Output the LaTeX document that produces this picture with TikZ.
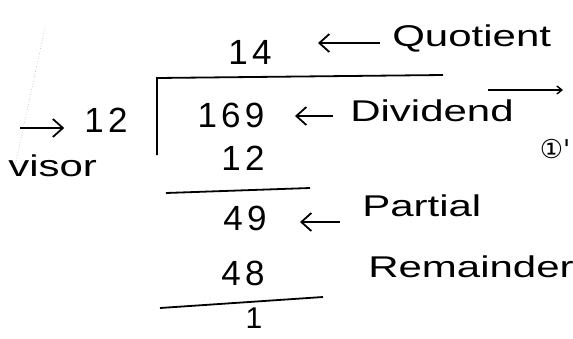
\documentclass[tikz,border=0pt]{standalone}
\usepackage{fontspec}
\setmainfont{Liberation Sans}
\newfontfamily\digits[LetterSpace=12]{Liberation Sans}
\newfontfamily\symb{DejaVu Sans}
\usetikzlibrary{positioning, arrows.meta}

\begin{document}
\begin{tikzpicture}[x=1pt, y=-1pt,
  n/.style={font=\digits\fontsize{35}{38}\selectfont, inner sep=0pt},
  w/.style={font=\fontsize{30}{34}\selectfont, inner sep=0pt, anchor=west, xscale=1.4},
  rule/.style={line width=1.8pt},
  ar/.style={line width=1.8pt, -{Straight Barb[length=10pt, width=18pt]}}]
\useasboundingbox (0,0) rectangle (573,338);
% page edge left by the scan
\draw[gray!60, dotted, line width=0.6pt] (45,28) -- (13,175);
% division bracket and subtraction lines
\draw[rule] (157,155) -- (157,78) -- (443,75);
\draw[rule] (166,193) -- (310,188);
\draw[rule] (160,308) -- (323,297);
% numbers
\node[n] (quo) at (250,52) {14};
\node[n] (div) at (106,120) {12};
\node[n] (dvd) at (231,115) {169};
\node[n] (sub1) at (243,158) {12};
\node[n] (rem1) at (245,218) {49};
\node[n] (sub2) at (243,273) {48};
\node[n, font=\digits\fontsize{30}{32}\selectfont] (rem2) at (254,318) {1};
% labels
\node[w] (quot) at (392,38) {Quotient};
\node[w] (dvdl) at (350,111) {Dividend};
\node[w] (part) at (362,206) {Partial};
\node[w] (remd) at (368,267) {Remainder};
\node[w] (dvsl) at (8,166) {visor};
\node[font=\symb\fontsize{26}{28}\selectfont, inner sep=0pt] (mark) at (555,149) {①'};
% pointers
\coordinate (quotA) at (318,43);
\coordinate (dvdA) at (295,116);
\coordinate (partA) at (300,222);
\coordinate (dvsA) at (20,128);
\coordinate (lineA) at (488,90);
\coordinate (lineB) at (563,90);
\draw[ar, shorten <=12pt] (quot.west |- quotA) -- (quotA);
\draw[ar, shorten <=17pt] (dvdl.west |- dvdA) -- (dvdA);
\draw[ar, shorten <=22pt] (part.west |- partA) -- (partA);
\draw[ar, shorten >=20pt] (dvsA) -- (div.west |- dvsA);
\draw[line width=1.4pt, -{Straight Barb[length=5pt, width=8pt]}] (lineA) -- (lineB);
\end{tikzpicture}
\end{document}
